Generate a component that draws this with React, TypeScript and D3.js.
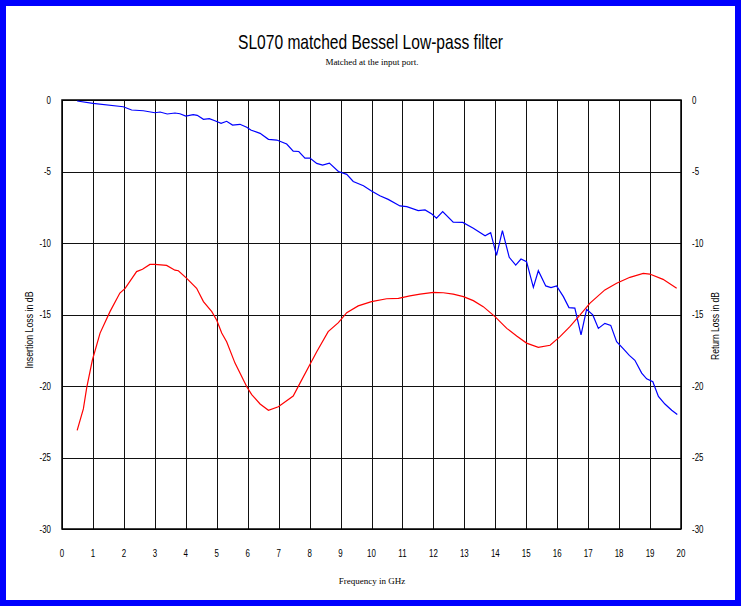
import React from "react";
import * as d3 from "d3";

const insertionFreq = [0.49,1.0,1.98,2.25,2.63,3.0,3.17,3.4,3.65,3.81,4.0,4.24,4.37,4.57,4.76,4.94,5.14,5.32,5.51,5.75,5.97,6.1,6.4,6.67,6.94,7.26,7.47,7.65,7.85,8.01,8.23,8.42,8.64,8.93,9.2,9.41,9.74,10.0,10.27,10.54,10.92,11.14,11.51,11.73,11.95,12.1,12.3,12.64,12.95,13.29,13.67,13.85,14.04,14.23,14.45,14.66,14.83,15.01,15.23,15.39,15.63,15.8,15.98,16.2,16.38,16.57,16.77,16.95,17.15,17.33,17.54,17.73,17.92,18.14,18.33,18.51,18.73,18.89,19.09,19.27,19.48,19.7,19.88];
const insertionLoss = [-0.07,-0.23,-0.47,-0.7,-0.75,-0.89,-0.84,-0.98,-0.91,-0.96,-1.12,-1.03,-1.07,-1.35,-1.31,-1.45,-1.63,-1.49,-1.75,-1.7,-1.91,-2.1,-2.33,-2.75,-2.8,-3.08,-3.57,-3.6,-4.06,-4.06,-4.43,-4.55,-4.41,-5.0,-5.2,-5.7,-6.0,-6.36,-6.7,-6.95,-7.41,-7.46,-7.74,-7.69,-7.97,-8.27,-7.8,-8.55,-8.56,-8.97,-9.5,-9.28,-10.87,-9.14,-11.0,-11.54,-11.12,-11.3,-13.1,-11.94,-13.0,-13.12,-13.0,-13.75,-14.52,-14.55,-16.43,-14.64,-15.03,-15.97,-15.62,-15.76,-16.9,-17.4,-17.86,-18.2,-19.1,-19.5,-19.7,-20.73,-21.26,-21.7,-22.0];

const returnFreq = [0.49,0.69,0.8,0.98,1.23,1.55,1.87,2.04,2.41,2.6,2.84,3.0,3.38,3.65,3.76,4.03,4.35,4.57,4.84,5.0,5.16,5.32,5.59,5.97,6.13,6.4,6.67,6.99,7.47,7.69,8.01,8.23,8.6,8.93,9.2,9.57,10.0,10.49,10.87,11.24,11.57,12.0,12.32,12.64,12.97,13.29,13.61,13.99,14.37,14.69,15.01,15.39,15.77,16.09,16.41,16.74,17.06,17.54,17.92,18.35,18.78,18.99,19.42,19.86];
const returnLoss = [-23.1,-21.6,-20.1,-18.2,-16.3,-14.8,-13.5,-13.17,-12.0,-11.84,-11.5,-11.5,-11.57,-11.9,-11.94,-12.47,-13.17,-14.1,-14.8,-15.4,-16.3,-16.9,-18.4,-20.05,-20.6,-21.26,-21.7,-21.45,-20.7,-19.8,-18.5,-17.6,-16.2,-15.57,-14.87,-14.4,-14.1,-13.9,-13.87,-13.7,-13.57,-13.45,-13.48,-13.57,-13.75,-14.03,-14.45,-15.15,-15.97,-16.5,-17.0,-17.3,-17.15,-16.55,-15.85,-15.03,-14.2,-13.28,-12.82,-12.4,-12.12,-12.17,-12.54,-13.17];

const xTicks = d3.range(0, 21, 1);
const yTicks = [0, -5, -10, -15, -20, -25, -30];

const W = 741, H = 606;
const left = 62, right = 681, top = 100, bottom = 529;

const sans = "'Liberation Sans', Arial, sans-serif";
const serif = "'Liberation Serif', 'DejaVu Serif', serif";
const SX = 0.72;

export default function App() {
  const x = d3.scaleLinear().domain([0, 20]).range([left, right]);
  const y = d3.scaleLinear().domain([0, -30]).range([top, bottom]);
  const line = d3.line<[number, number]>().x(d => x(d[0])).y(d => y(d[1]));
  const ins = line(insertionFreq.map((f, i) => [f, insertionLoss[i]] as [number, number])) || "";
  const ret = line(returnFreq.map((f, i) => [f, returnLoss[i]] as [number, number])) || "";
  return (
    <div style={{ position: "absolute", left: 0, top: 0 }}>
      <svg width={W} height={H} style={{ display: "block" }}>
        <rect x={0} y={0} width={W} height={H} fill="#fff" />
        <rect x={3} y={3} width={W - 6} height={H - 6} fill="none" stroke="#0000ff" strokeWidth={6} />
        <text x={238} y={49} textLength={265} lengthAdjust="spacingAndGlyphs" fontFamily={sans} fontSize={21} fill="#000">SL070 matched Bessel Low-pass filter</text>
        <text x={372} y={65} textAnchor="middle" fontFamily={serif} fontSize={9} fill="#000">Matched at the input port.</text>
        {/* grid */}
        {xTicks.map(t => (
          <line key={"gx" + t} x1={Math.round(x(t)) + 0.5} x2={Math.round(x(t)) + 0.5} y1={top} y2={bottom} stroke="#111" strokeWidth={1} />
        ))}
        {yTicks.map(t => (
          <line key={"gy" + t} x1={left} x2={right} y1={Math.round(y(t)) + 0.5} y2={Math.round(y(t)) + 0.5} stroke="#111" strokeWidth={1} />
        ))}
        <rect x={left} y={top} width={right - left} height={bottom - top} fill="none" stroke="#000" strokeWidth={1.5} />
        {/* tick labels */}
        {yTicks.map(t => (
          <text key={"yl" + t} transform={`translate(51,${y(t)}) scale(${SX},1)`} dy="0.35em" textAnchor="end" fontFamily={sans} fontSize={11} fill="#000">{t}</text>
        ))}
        {yTicks.map(t => (
          <text key={"yr" + t} transform={`translate(692,${y(t)}) scale(${SX},1)`} dy="0.35em" textAnchor="start" fontFamily={sans} fontSize={11} fill="#000">{t}</text>
        ))}
        {xTicks.map(t => (
          <text key={"xl" + t} transform={`translate(${x(t)},553) scale(${SX},1)`} dy="0.35em" textAnchor="middle" fontFamily={sans} fontSize={11} fill="#000">{t}</text>
        ))}
        <text x={372} y={584} textAnchor="middle" fontFamily={serif} fontSize={9} fill="#000">Frequency in GHz</text>
        <text transform={`translate(33,368.5) rotate(-90)`} textLength={77} lengthAdjust="spacingAndGlyphs" fontFamily={sans} fontSize={10.5} fill="#000">Insertion Loss in dB</text>
        <text transform={`translate(719,360) rotate(-90)`} textLength={68} lengthAdjust="spacingAndGlyphs" fontFamily={sans} fontSize={10.5} fill="#000">Return Loss in dB</text>
        <path d={ins} fill="none" stroke="#0000ff" strokeWidth={1.2} />
        <path d={ret} fill="none" stroke="#ff0000" strokeWidth={1.2} />
      </svg>
    </div>
  );
}
